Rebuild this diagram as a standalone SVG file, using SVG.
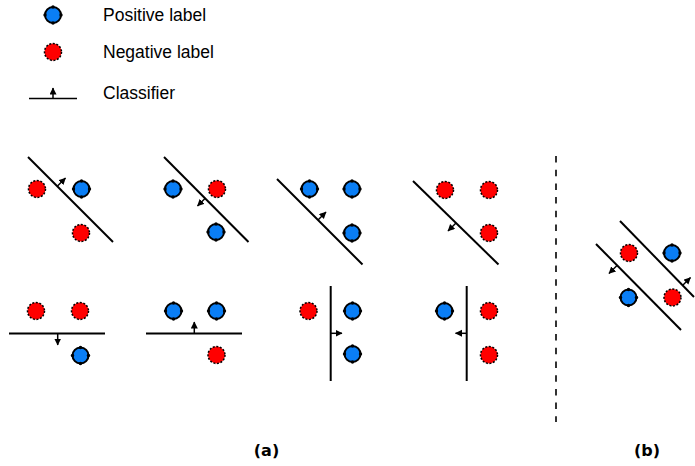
<svg xmlns="http://www.w3.org/2000/svg" width="695" height="466" viewBox="0 0 695 466">
<style>
.pos{fill:#0a7ef5;stroke:#000;stroke-width:2}
.neg{fill:#ff0000;stroke:#000;stroke-width:1.5;stroke-dasharray:2 1.6}
.cl{stroke:#000;stroke-width:2;fill:none}
.ar{stroke:#000;stroke-width:1.5;fill:none;marker-end:url(#ah)}
.lt{font-family:"Liberation Sans",Arial,sans-serif;font-size:17.5px;fill:#000}
.cap{font-family:"DejaVu Sans",sans-serif;font-size:16px;font-weight:bold;fill:#000;text-anchor:middle}
</style>
<defs>
<marker id="ah" markerUnits="userSpaceOnUse" markerWidth="8" markerHeight="8" refX="6.5" refY="3.5" orient="auto">
<path d="M0,0 L7,3.5 L0,7 z" fill="#000"/>
</marker>
<g id="P">
<circle r="8" class="pos"/>
<circle cx="0" cy="-8" r="1.7" fill="#000"/>
<circle cx="0" cy="8" r="1.7" fill="#000"/>
<circle cx="-8" cy="0" r="1.7" fill="#000"/>
<circle cx="8" cy="0" r="1.7" fill="#000"/>
</g>
<g id="N">
<circle r="8.5" class="neg"/>
</g>
</defs>

<g id="legend">
<use href="#P" x="53" y="15"/>
<text class="lt" x="103" y="21">Positive label</text>
<use href="#N" x="53" y="52"/>
<text class="lt" x="103" y="58">Negative label</text>
<line class="cl" x1="29" y1="98.5" x2="77" y2="98.5" style="stroke-width:1.5"/>
<line class="ar" x1="53" y1="98" x2="53" y2="88"/>
<text class="lt" x="103" y="99">Classifier</text>
</g>

<g id="panel1">
<use href="#N" x="37" y="189"/>
<use href="#P" x="81.5" y="189"/>
<use href="#N" x="81" y="233"/>
</g>
<g id="panel2">
<use href="#P" x="173" y="189"/>
<use href="#N" x="217" y="189"/>
<use href="#P" x="216" y="232"/>
</g>
<g id="panel3">
<use href="#P" x="309.5" y="189"/>
<use href="#P" x="352" y="189"/>
<use href="#P" x="352" y="233"/>
</g>
<g id="panel4">
<use href="#N" x="445" y="190"/>
<use href="#N" x="489" y="190"/>
<use href="#N" x="489" y="233"/>
</g>
<g id="panel5">
<use href="#N" x="36" y="311"/>
<use href="#N" x="80" y="311"/>
<use href="#P" x="80.5" y="355.5"/>
</g>
<g id="panel6">
<use href="#P" x="173.5" y="311"/>
<use href="#P" x="216.5" y="311"/>
<use href="#N" x="216.5" y="355"/>
</g>
<g id="panel7">
<use href="#N" x="308.5" y="311"/>
<use href="#P" x="352.5" y="311"/>
<use href="#P" x="352.5" y="354"/>
</g>
<g id="panel8">
<use href="#P" x="444.5" y="311"/>
<use href="#N" x="489" y="311"/>
<use href="#N" x="489" y="355"/>
</g>
<g id="panelb">
<use href="#N" x="629" y="253"/>
<use href="#P" x="672" y="253"/>
<use href="#P" x="628.5" y="297.5"/>
<use href="#N" x="672.5" y="297.5"/>
</g>

<g id="connectors">
<line class="cl" x1="28" y1="157" x2="113" y2="242"/>
<line class="ar" x1="57.5" y1="186" x2="65.5" y2="178"/>
<line class="cl" x1="164" y1="157" x2="248.5" y2="242"/>
<line class="ar" x1="205.5" y1="198" x2="197.5" y2="206"/>
<line class="cl" x1="277" y1="179" x2="362.5" y2="264.5"/>
<line class="ar" x1="318" y1="220" x2="326" y2="212"/>
<line class="cl" x1="413" y1="181" x2="498.5" y2="264.5"/>
<line class="ar" x1="456" y1="223" x2="448" y2="231"/>
<line class="cl" x1="9" y1="333.5" x2="105" y2="333.5"/>
<line class="ar" x1="57.7" y1="333.5" x2="57.7" y2="345"/>
<line class="cl" x1="146" y1="333.5" x2="242" y2="333.5"/>
<line class="ar" x1="194.3" y1="333.5" x2="194.3" y2="322"/>
<line class="cl" x1="330.7" y1="286" x2="330.7" y2="381"/>
<line class="ar" x1="330.7" y1="333.3" x2="342" y2="333.3"/>
<line class="cl" x1="466.7" y1="286" x2="466.7" y2="381"/>
<line class="ar" x1="466.7" y1="333.3" x2="455.5" y2="333.3"/>
<line class="cl" x1="620" y1="221" x2="694" y2="297"/>
<line class="ar" x1="682.5" y1="285.5" x2="690.5" y2="277.5"/>
<line class="cl" x1="596" y1="244" x2="681" y2="330"/>
<line class="ar" x1="617" y1="265.5" x2="609" y2="273.5"/>
<line x1="556" y1="156" x2="556" y2="422" stroke="#000" stroke-width="1.6" stroke-dasharray="6.5 7.2"/>
</g>

<text class="cap" x="266.5" y="456">(a)</text>
<text class="cap" x="647" y="456">(b)</text>
</svg>
